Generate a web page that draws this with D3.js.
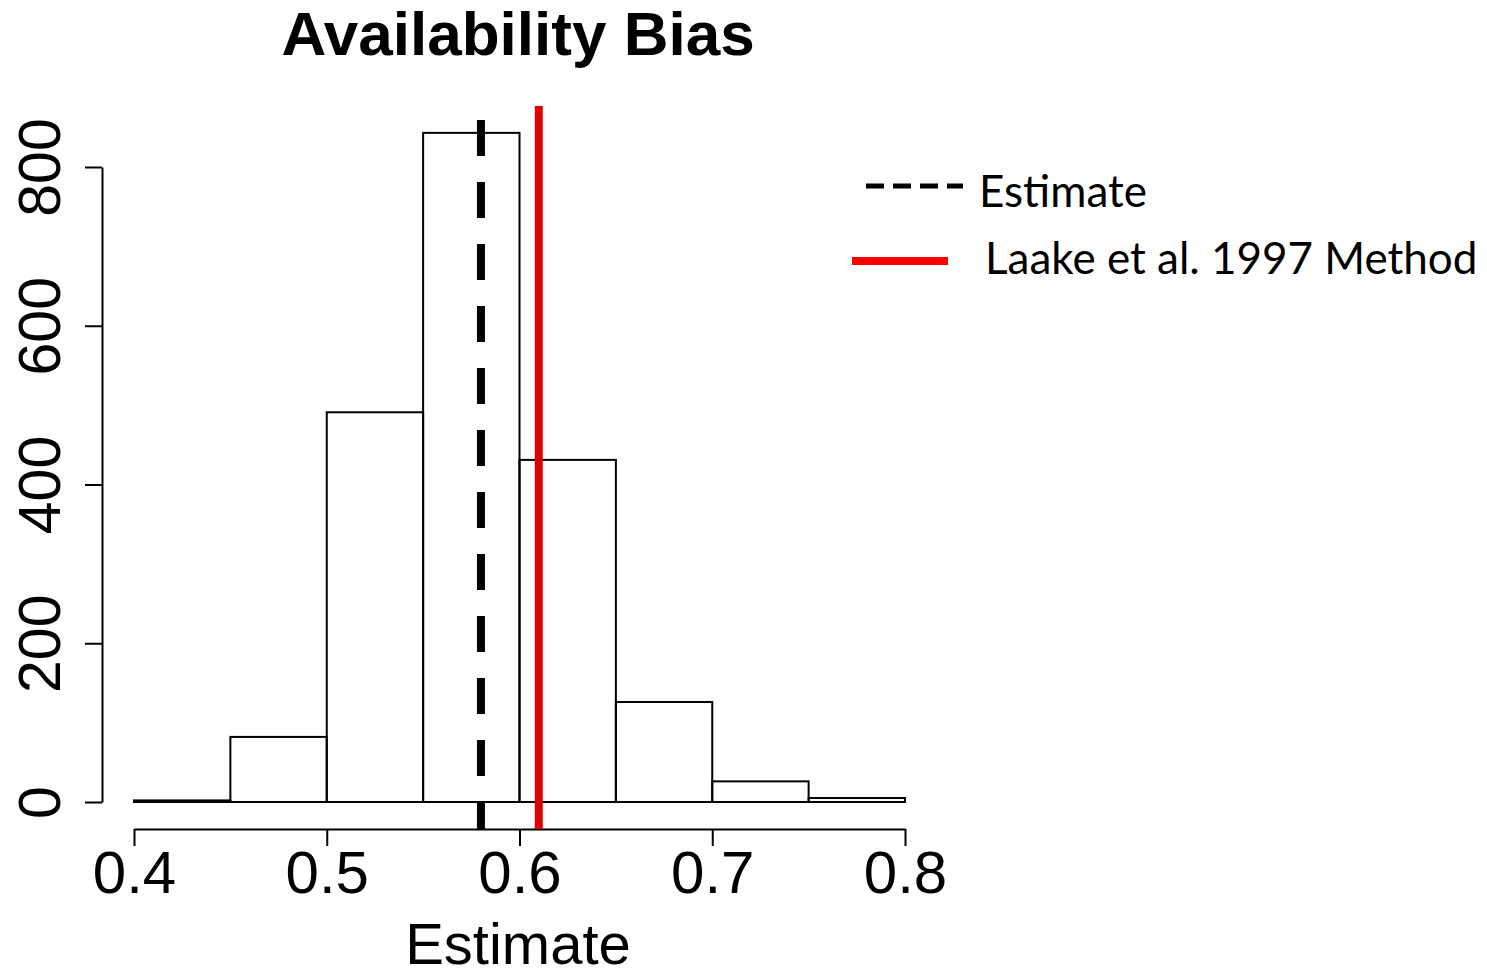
<!DOCTYPE html>
<html>
<head>
<meta charset="utf-8">
<script src="https://cdn.jsdelivr.net/npm/d3@7"></script>
<style>
  body { margin: 0; background: #fff; }
  svg { display: block; }
</style>
</head>
<body>
<svg id="chart"></svg>
<script>
'use strict';

// histogram of estimates (bin width 0.05)
const binStarts = [0.40, 0.45, 0.50, 0.55, 0.60, 0.65, 0.70, 0.75];
const binWidth = 0.05;
const counts = [2, 82, 491, 843, 431, 126, 26, 5];
const xTicks = [0.4, 0.5, 0.6, 0.7, 0.8];
const yTicks = [0, 200, 400, 600, 800];
const estimateValue = 0.58;
const laakeValue = 0.61;
const legendLabels = ['Estimate', 'Laake et al. 1997 Method'];

(function () {
    const width = 1487;
    const height = 975;
    const svg = d3.select('#chart').attr('width', width).attr('height', height);

    const x = d3.scaleLinear().domain([0.4, 0.8]).range([134, 905]);
    const y = d3.scaleLinear().domain([0, 800]).range([802, 167]);
    const axisY = 829;
    const font = '"Liberation Sans", Arial, sans-serif';

    svg.append('text')
        .attr('x', 518).attr('y', 55)
        .attr('text-anchor', 'middle')
        .style('font', 'bold 62px ' + font)
        .text('Availability Bias');

    // bars
    svg.selectAll('.bar')
        .data(binStarts)
        .enter().append('rect')
        .attr('class', 'bar')
        .attr('x', d => x(d))
        .attr('width', d => x(d + binWidth) - x(d))
        .attr('y', (d, i) => y(counts[i]))
        .attr('height', (d, i) => y(0) - y(counts[i]))
        .attr('fill', 'none')
        .attr('stroke', '#000')
        .attr('stroke-width', 2);

    // x axis
    const gx = svg.append('g')
        .attr('transform', 'translate(0,' + axisY + ')')
        .call(d3.axisBottom(x).tickValues(xTicks).tickSize(17).tickSizeOuter(0).tickFormat(d3.format('.1f')));
    gx.selectAll('path, line').attr('stroke', '#000').attr('stroke-width', 2);
    gx.selectAll('text')
        .attr('y', 64).attr('dy', 0)
        .style('font', '60px ' + font)
        .attr('fill', '#000');

    // y axis
    const gy = svg.append('g')
        .attr('transform', 'translate(102,0)')
        .call(d3.axisLeft(y).tickValues(yTicks).tickSize(17).tickSizeOuter(0));
    gy.selectAll('path, line').attr('stroke', '#000').attr('stroke-width', 2);
    gy.selectAll('text')
        .attr('x', 0).attr('dy', 0)
        .attr('text-anchor', 'middle')
        .attr('transform', 'translate(-42,0) rotate(-90)')
        .style('font', '59px ' + font)
        .attr('fill', '#000');

    svg.append('text')
        .attr('x', 518).attr('y', 964)
        .attr('text-anchor', 'middle')
        .style('font', '58px ' + font)
        .text('Estimate');

    // reference lines
    svg.append('line')
        .attr('x1', x(estimateValue)).attr('x2', x(estimateValue))
        .attr('y1', 120).attr('y2', axisY)
        .attr('stroke', '#000').attr('stroke-width', 8)
        .attr('stroke-dasharray', '36 26');

    svg.append('line')
        .attr('x1', x(laakeValue)).attr('x2', x(laakeValue))
        .attr('y1', 106).attr('y2', axisY)
        .attr('stroke', '#e00000').attr('stroke-width', 8);

    // legend
    svg.append('line')
        .attr('x1', 866).attr('x2', 963).attr('y1', 186).attr('y2', 186)
        .attr('stroke', '#000').attr('stroke-width', 5)
        .attr('stroke-dasharray', '18 9');
    svg.append('line')
        .attr('x1', 852).attr('x2', 948).attr('y1', 261).attr('y2', 261)
        .attr('stroke', '#ff0000').attr('stroke-width', 8);

    svg.append('text')
        .attr('x', 979).attr('y', 207)
        .style('font', '44px Lato, sans-serif')
        .text(legendLabels[0]);
    svg.append('text')
        .attr('x', 985).attr('y', 274)
        .style('font', '44px Lato, sans-serif')
        .text(legendLabels[1]);
})();
</script>
</body>
</html>
